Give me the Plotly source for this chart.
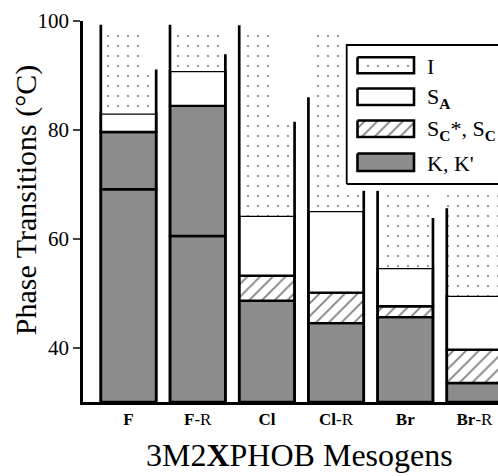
import plotly.graph_objects as go

# ---------------- data (°C) ----------------
mesogens = ["F", "F-R", "Cl", "Cl-R", "Br", "Br-R"]
tick_labels = ["<b>F</b>", "<b>F</b>-R", "<b>Cl</b>", "<b>Cl</b>-R", "<b>Br</b>", "<b>Br</b>-R"]
k_prime_top = [69.1, 60.5, None, None, None, None]      # K' -> K transition
k_top = [79.6, 84.4, 48.6, 44.5, 45.6, 33.5]              # K top
sc_top = [None, None, 53.2, 50.1, 47.6, 39.6]             # Sc*/Sc top
sa_top = [83.0, 90.8, 64.2, 65.1, 54.6, 49.5]             # SA -> I
i_full_top = [91.1, 98.3, 81.5, 68.8, 68.0, 68.0]         # full-width isotropic region top
i_top = [98.3, 98.3, 98.3, 98.3, 68.0, 68.0]              # narrow isotropic region top
left_top = [99.3, 99.3, 99.2, 86.0, 68.8, 65.6]           # left bracket line top
right_top = [91.1, 93.9, 81.5, 68.8, 63.8, 60.0]          # right bracket line top
y_min, y_max = 30, 100
y_ticks = [40, 60, 80, 100]

# ---------------- styles ----------------
W = 0.80
narrow_offset = [-0.38, -0.4, -0.31, -0.30, -0.4, -0.4]
narrow_width = [0.56, 0.8, 0.45, 0.45, 0.8, 0.8]
GRAY = "#8c8c8c"
OUT = dict(color="black", width=2.4)
DOTS = dict(shape=".", size=10, solidity=0.035, fgcolor="black", bgcolor="white")
HATCH = dict(shape="/", size=9, solidity=0.2, fgcolor="black", bgcolor="white")
FONT = "Liberation Serif"

x = list(range(len(mesogens)))

def seg(tops, bases):
    h, b = [], []
    for t, s in zip(tops, bases):
        if t is None or s is None or t <= s:
            h.append(None); b.append(None)
        else:
            h.append(t - s); b.append(s)
    return h, b

fig = go.Figure()

# K'
h, b = seg(k_prime_top, [y_min] * 6)
fig.add_bar(x=x, y=h, base=b, width=W, marker=dict(color=GRAY, line=OUT))
# K
k_base = [kp if kp is not None else y_min for kp in k_prime_top]
h, b = seg(k_top, k_base)
fig.add_bar(x=x, y=h, base=b, width=W, marker=dict(color=GRAY, line=OUT))
# Sc
h, b = seg(sc_top, k_top)
fig.add_bar(x=x, y=h, base=b, width=W, marker=dict(color="white", pattern=HATCH, line=OUT))
# SA
sa_base = [s if s is not None else k for s, k in zip(sc_top, k_top)]
h, b = seg(sa_top, sa_base)
fig.add_bar(x=x, y=h, base=b, width=W, marker=dict(color="white", line=OUT))
# I (full width)
h, b = seg(i_full_top, sa_top)
fig.add_bar(x=x, y=h, base=b, width=W, marker=dict(color="white", pattern=DOTS, line=dict(width=0)))
# I (narrow upper)
h, b = seg(i_top, i_full_top)
fig.add_bar(x=x, y=h, base=b, width=narrow_width, offset=narrow_offset,
            marker=dict(color="white", pattern=DOTS, line=dict(width=0)))

# bracket lines
lx, ly = [], []
for i in x:
    lx += [i - W / 2, i - W / 2, None, i + W / 2, i + W / 2, None]
    ly += [y_min, left_top[i], None, y_min, right_top[i], None]
fig.add_scatter(x=lx, y=ly, mode="lines", line=dict(color="black", width=2.7),
                hoverinfo="skip", cliponaxis=True)

# ---------------- legend (overlay axes in pixel units) ----------------
box = dict(x0=346.7, x1=530, y0=45, y1=184)
fig.add_scatter(x=[box["x0"], box["x0"], box["x1"], box["x1"], box["x0"]],
                y=[box["y1"], box["y0"], box["y0"], box["y1"], box["y1"]],
                fill="toself", fillcolor="white", mode="lines",
                line=dict(color="black", width=1.8), xaxis="x2", yaxis="y2", hoverinfo="skip")
leg_names = ["I", "S<sub><b>A</b></sub>", "S<sub><b>C</b></sub>*, S<sub><b>C</b></sub>", "K, K'"]
leg_y = [(57.3, 73.3), (88.5, 105), (120.5, 137), (153.5, 171)]
leg_fill = [("white", DOTS), ("white", None), ("white", HATCH), (GRAY, None)]
sx0, sx1 = 357.5, 414
for (ya, yb), (col, pat), name in zip(leg_y, leg_fill, leg_names):
    kw = dict(fillpattern=pat) if pat else {}
    fig.add_scatter(x=[sx0, sx0, sx1, sx1, sx0], y=[ya, yb, yb, ya, ya], fill="toself",
                    fillcolor=col, mode="lines", line=dict(color="black", width=2.6),
                    xaxis="x2", yaxis="y2", hoverinfo="skip", **kw)
    fig.add_annotation(x=425, y=(ya + yb) / 2 + 1, xref="x2", yref="y2", text=name,
                       showarrow=False, xanchor="left", yanchor="middle",
                       font=dict(family=FONT, size=22, color="black"))

# titles
fig.add_annotation(text="Phase Transitions (°C)", textangle=-90, x=-0.137, y=0.53,
                   xref="paper", yref="paper", showarrow=False,
                   xanchor="center", yanchor="middle",
                   font=dict(family=FONT, size=30, color="black"))
fig.add_annotation(text="3M2<b>X</b>PHOB Mesogens", x=0.5205, y=-0.14,
                   xref="paper", yref="paper", showarrow=False,
                   xanchor="center", yanchor="middle",
                   font=dict(family=FONT, size=32, color="black"))

fig.update_layout(
    width=498, height=476,
    margin=dict(l=83, r=0, t=21, b=74, autoexpand=False),
    barmode="overlay", showlegend=False,
    plot_bgcolor="white", paper_bgcolor="white",
    font=dict(family=FONT, color="black"),
    xaxis=dict(range=[-0.6575, 5.34], tickvals=x, ticktext=tick_labels, automargin=False,
               showline=True, linewidth=2.5, linecolor="black", ticks="",
               showgrid=False, zeroline=False, tickfont=dict(size=17, family=FONT)),
    yaxis=dict(range=[y_min, y_max], tickvals=y_ticks, showline=True, linewidth=2.5,
               automargin=False,
               linecolor="black", ticks="outside", ticklen=7, tickwidth=2,
               showgrid=False, zeroline=False, tickfont=dict(size=21, family=FONT)),
    xaxis2=dict(overlaying="x", range=[83, 498], visible=False),
    yaxis2=dict(overlaying="y", range=[402, 21], visible=False),
)

fig.write_html("out.html", config={"displayModeBar": False},
               post_script="document.body.style.margin='0px';document.body.style.overflow='hidden';")
